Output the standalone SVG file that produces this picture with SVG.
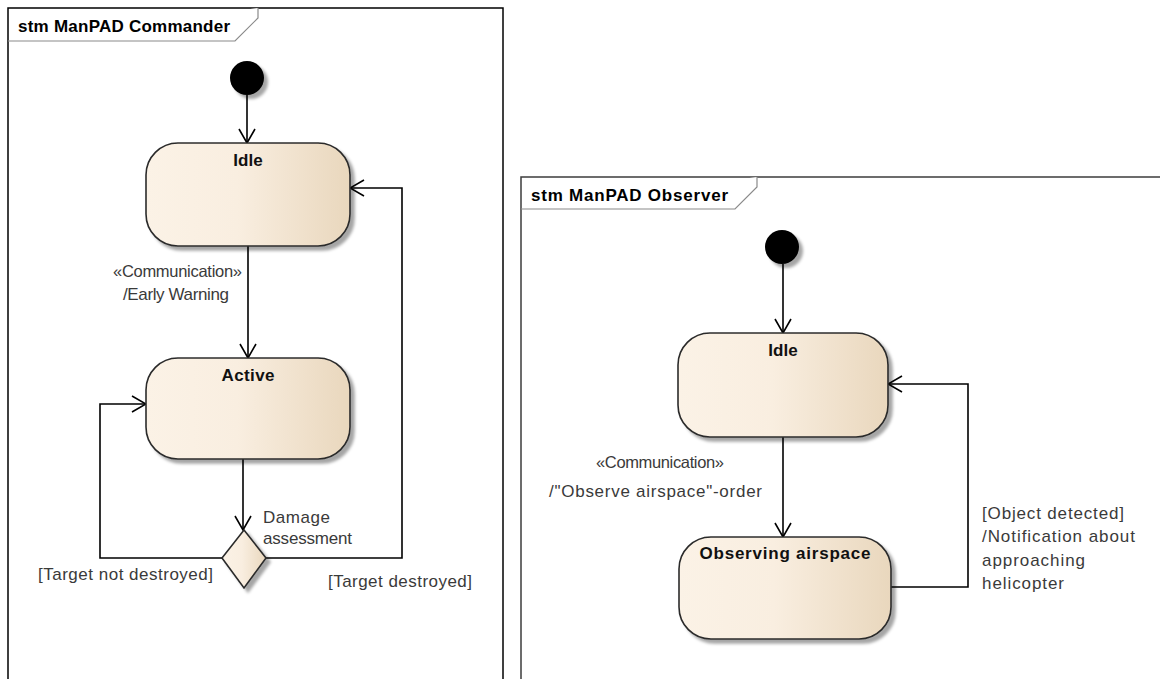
<svg xmlns="http://www.w3.org/2000/svg" width="1160" height="679" viewBox="0 0 1160 679">
  <style>
    .frame { fill: #ffffff; stroke: #000000; stroke-width: 1.5; }
    .frame2 { fill: #ffffff; stroke: #3c3c3c; stroke-width: 1.5; }
    .tab { fill: #ffffff; stroke: #8a8a8a; stroke-width: 1.2; }
    .title { font-family: "Liberation Sans", Arial, sans-serif; font-size: 17px; font-weight: bold; fill: #000000; }
    .state { fill: url(#stateFill); stroke: #2b2b2b; stroke-width: 1.6; filter: url(#shadow); }
    .name { font-family: "Liberation Sans", Arial, sans-serif; font-size: 17px; font-weight: bold; fill: #111111; text-anchor: middle; }
    .label { font-family: "Liberation Sans", Arial, sans-serif; font-size: 17px; fill: #3a3a3a; }
    .stereo { font-size: 16.5px; }
    .edge { fill: none; stroke: #000000; stroke-width: 1.6; marker-end: url(#open); }
    .initial { fill: #000000; filter: url(#shadow); }
  </style>
  <defs>
    <linearGradient id="stateFill" x1="0" y1="0" x2="1" y2="0">
      <stop offset="0" stop-color="#fbf2e6"/>
      <stop offset="0.45" stop-color="#f9eee0"/>
      <stop offset="1" stop-color="#e9d7bd"/>
    </linearGradient>
    <filter id="shadow" x="-20%" y="-20%" width="150%" height="150%">
      <feGaussianBlur in="SourceAlpha" stdDeviation="1.8"/>
      <feOffset dx="4" dy="4" result="blur"/>
      <feFlood flood-color="#000000" flood-opacity="0.35"/>
      <feComposite in2="blur" operator="in"/>
      <feMerge>
        <feMergeNode/>
        <feMergeNode in="SourceGraphic"/>
      </feMerge>
    </filter>
    <marker id="open" viewBox="0 0 16 18" refX="15" refY="9" markerWidth="16" markerHeight="18" markerUnits="userSpaceOnUse" orient="auto">
      <path d="M1,1 L15,9 L1,17" fill="none" stroke="#000000" stroke-width="1.6"/>
    </marker>
  </defs>

  <!-- Commander state machine frame -->
  <g id="frame-commander">
    <rect class="frame" x="8" y="8" width="495" height="700"/>
    <path class="tab" d="M8,41 L235,41 L258,18 L258,8"/>
    <text class="title" x="18" y="32" textLength="212">stm ManPAD Commander</text>
  </g>

  <!-- Observer state machine frame -->
  <g id="frame-observer">
    <rect class="frame2" x="521" y="177" width="700" height="540"/>
    <path class="tab" d="M521,209 L735,209 L757,187 L757,177"/>
    <text class="title" x="531" y="201" textLength="197">stm ManPAD Observer</text>
  </g>

  <!-- Commander connectors -->
  <g id="connectors-commander">
    <path class="edge" d="M247,95 L247,143"/>
    <path class="edge" d="M248,246 L248,358"/>
    <path class="edge" d="M243,459 L243,530"/>
    <path class="edge" d="M222,558 L100,558 L100,404 L146,404"/>
    <path class="edge" d="M266,558 L402,558 L402,188 L350,188"/>
    <text class="label stereo" x="242" y="277" text-anchor="end" textLength="129">«Communication»</text>
    <text class="label" x="229" y="300" text-anchor="end" textLength="106">/Early Warning</text>
    <text class="label" x="263" y="523" textLength="67">Damage</text>
    <text class="label" x="263" y="544" textLength="89">assessment</text>
    <text class="label" x="38" y="580" textLength="175">[Target not destroyed]</text>
    <text class="label" x="328" y="587" textLength="144">[Target destroyed]</text>
  </g>

  <!-- Commander nodes -->
  <g id="c-initial">
    <circle class="initial" cx="247" cy="78" r="17"/>
  </g>
  <g id="c-idle">
    <rect class="state" x="146" y="143" width="204" height="103" rx="32" ry="32"/>
    <text class="name" x="248" y="166">Idle</text>
  </g>
  <g id="c-active">
    <rect class="state" x="146" y="358" width="204" height="101" rx="32" ry="32"/>
    <text class="name" x="248" y="381" textLength="53">Active</text>
  </g>
  <g id="c-decision">
    <path class="state" d="M244,530 L266,558 L244,588 L222,558 Z"/>
  </g>

  <!-- Observer connectors -->
  <g id="connectors-observer">
    <path class="edge" d="M783,264 L783,333"/>
    <path class="edge" d="M783,437 L783,537"/>
    <path class="edge" d="M891,587 L968,587 L968,384 L888,384"/>
    <text class="label stereo" x="660" y="468" text-anchor="middle" textLength="128">«Communication»</text>
    <text class="label" x="549" y="497" textLength="213">/"Observe airspace"-order</text>
    <text class="label" x="982" y="519" textLength="142">[Object detected]</text>
    <text class="label" x="982" y="542" textLength="153">/Notification about</text>
    <text class="label" x="982" y="566" textLength="103">approaching</text>
    <text class="label" x="982" y="589" textLength="82">helicopter</text>
  </g>

  <!-- Observer nodes -->
  <g id="o-initial">
    <circle class="initial" cx="782" cy="247" r="17"/>
  </g>
  <g id="o-idle">
    <rect class="state" x="678" y="333" width="210" height="104" rx="32" ry="32"/>
    <text class="name" x="783" y="356">Idle</text>
  </g>
  <g id="o-observing">
    <rect class="state" x="679" y="537" width="212" height="102" rx="32" ry="32"/>
    <text class="name" x="785" y="559" textLength="171">Observing airspace</text>
  </g>
</svg>
